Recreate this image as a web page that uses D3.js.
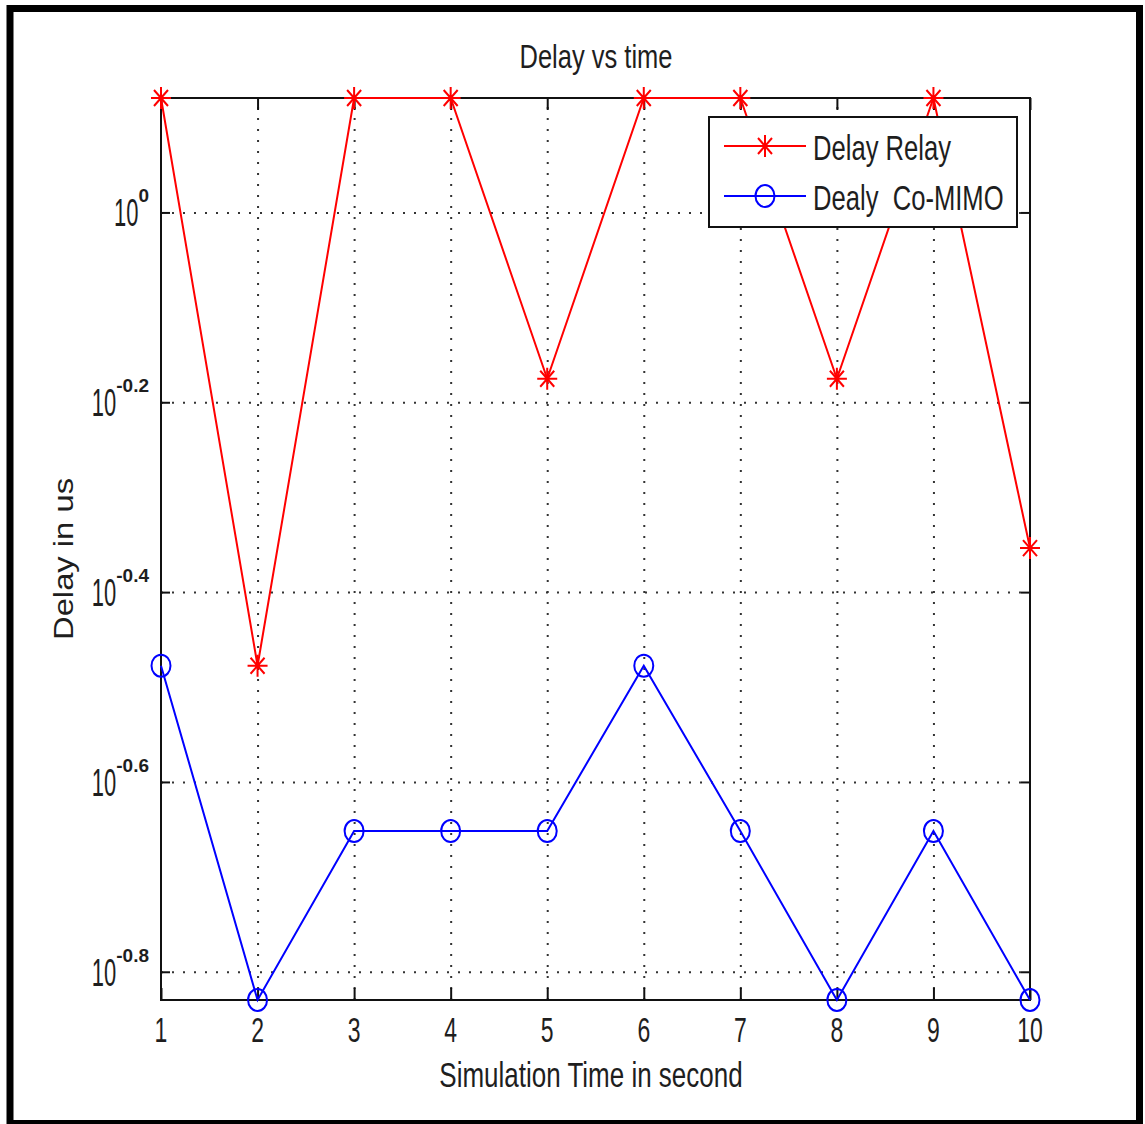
<!DOCTYPE html>
<html><head><meta charset="utf-8">
<script src="https://cdn.jsdelivr.net/npm/d3@7"></script>
<style>
html,body{margin:0;padding:0;background:#fff;}
svg{display:block;}
text{font-family:"Liberation Sans",Arial,Helvetica,sans-serif;fill:#1e1e1e;}
</style></head>
<body><svg id="c" width="1145" height="1124"></svg>
<script>
const times = [1,2,3,4,5,6,7,8,9,10];
const delayRelay = [1.32, 0.333, 1.32, 1.32, 0.668, 1.32, 1.32, 0.668, 1.32, 0.443];
const delayCoMIMO = [0.333, 0.148, 0.223, 0.223, 0.223, 0.333, 0.223, 0.148, 0.223, 0.148];
const xTicks = [1,2,3,4,5,6,7,8,9,10];
const yTickExps = [0, -0.2, -0.4, -0.6, -0.8];
const yTickLabels = ["0", "-0.2", "-0.4", "-0.6", "-0.8"];
const seriesNames = ["Delay Relay", "Dealy  Co-MIMO"];
const titleText = "Delay vs time";
const xLabel = "Simulation Time in second";
const yLabel = "Delay in us";

const svg = d3.select('#c');
const L = 161, R = 1030, T = 98, B = 1000;
const x = d3.scaleLinear().domain([1, 10]).range([L, R]);
const y = d3.scaleLog().domain([d3.min(delayCoMIMO.concat(delayRelay)), d3.max(delayCoMIMO.concat(delayRelay))]).range([B, T]);
const yTickVals = yTickExps.map(e => Math.pow(10, e));

function stext(parent, px, py, str, size, sx, sy, anchor) {
  const g = parent.append('g').attr('transform', `translate(${px},${py}) scale(${sx},${sy})`);
  const t = g.append('text').attr('text-anchor', anchor).style('font-size', size + 'px')
    .style('white-space', 'pre').text(str);
  return t;
}

svg.append('rect').attr('width', 1145).attr('height', 1124).attr('fill', '#fff');
// outer frame
svg.append('rect').attr('x', 10).attr('y', 8.5).attr('width', 1129.5).attr('height', 1115)
  .attr('fill', 'none').attr('stroke', '#000').attr('stroke-width', 7);

// grid
const gridX = svg.append('g').attr('transform', `translate(0,${B})`)
  .call(d3.axisBottom(x).tickValues(xTicks.slice(1, -1)).tickSize(-(B - T)).tickFormat(''));
const gridY = svg.append('g').attr('transform', `translate(${L},0)`)
  .call(d3.axisLeft(y).tickValues(yTickVals).tickSize(-(R - L)).tickFormat(''));
[gridX, gridY].forEach(g => {
  g.select('.domain').remove();
  g.selectAll('line').attr('stroke', '#333').attr('stroke-width', 2).attr('stroke-dasharray', '2,9');
});

// axis ticks (inward on all sides)
const tickStyle = g => { g.select('.domain').remove(); g.selectAll('line').attr('stroke', '#111').attr('stroke-width', 2); };
svg.append('g').attr('transform', `translate(0,${B})`).call(d3.axisBottom(x).tickValues(xTicks).tickSize(-12).tickFormat('')).call(tickStyle);
svg.append('g').attr('transform', `translate(0,${T})`).call(d3.axisTop(x).tickValues(xTicks).tickSize(-12).tickFormat('')).call(tickStyle);
svg.append('g').attr('transform', `translate(${L},0)`).call(d3.axisLeft(y).tickValues(yTickVals).tickSize(-9).tickFormat('')).call(tickStyle);
svg.append('g').attr('transform', `translate(${R},0)`).call(d3.axisRight(y).tickValues(yTickVals).tickSize(-9).tickFormat('')).call(tickStyle);

// box
svg.append('rect').attr('x', L).attr('y', T).attr('width', R - L).attr('height', B - T)
  .attr('fill', 'none').attr('stroke', '#111').attr('stroke-width', 2);

// tick labels
xTicks.forEach(v => stext(svg, x(v), 1042, String(v), 23, 1, 1.5, 'middle'));
yTickVals.forEach((v, i) => {
  const yy = y(v);
  const sup = stext(svg, 149, yy - 10, yTickLabels[i], 19, 1, 1.0, 'end').style('font-weight', 'bold');
  const w = sup.node().getComputedTextLength();
  stext(svg, 149 - w, yy + 14, "10", 22, 1, 1.75, 'end');
});

// title and labels
stext(svg, 596, 68, titleText, 25.5, 1, 1.27, 'middle');
stext(svg, 591, 1087, xLabel, 26, 1, 1.33, 'middle');
svg.append('g').attr('transform', 'translate(73,559) rotate(-90) scale(1.17,1)')
  .append('text').attr('text-anchor', 'middle').style('font-size', '28px').text(yLabel);

// series
const line = d3.line().x((d, i) => x(times[i])).y(d => y(d));
svg.append('path').datum(delayRelay).attr('d', line).attr('fill', 'none').attr('stroke', '#ff0000').attr('stroke-width', 2);
svg.append('path').datum(delayCoMIMO).attr('d', line).attr('fill', 'none').attr('stroke', '#0000ff').attr('stroke-width', 2);

function star(g, cx, cy) {
  const p = `M${cx},${cy - 11}L${cx},${cy + 11}M${cx - 10},${cy}L${cx + 10},${cy}` +
    `M${cx - 7},${cy - 8}L${cx + 7},${cy + 8}M${cx - 7},${cy + 8}L${cx + 7},${cy - 8}`;
  g.append('path').attr('d', p).attr('stroke', '#ff0000').attr('stroke-width', 2).attr('fill', 'none');
}
function circ(g, cx, cy) {
  g.append('ellipse').attr('cx', cx).attr('cy', cy).attr('rx', 9.5).attr('ry', 11)
    .attr('fill', 'none').attr('stroke', '#0000ff').attr('stroke-width', 2);
}
const mk = svg.append('g');
delayRelay.forEach((d, i) => star(mk, x(times[i]), y(d)));
delayCoMIMO.forEach((d, i) => circ(mk, x(times[i]), y(d)));

// legend
const lg = svg.append('g');
lg.append('rect').attr('x', 709).attr('y', 117).attr('width', 308).attr('height', 110)
  .attr('fill', '#fff').attr('stroke', '#111').attr('stroke-width', 2);
lg.append('line').attr('x1', 724).attr('x2', 806).attr('y1', 146).attr('y2', 146).attr('stroke', '#ff0000').attr('stroke-width', 2);
star(lg, 765, 146);
lg.append('line').attr('x1', 724).attr('x2', 806).attr('y1', 196).attr('y2', 196).attr('stroke', '#0000ff').attr('stroke-width', 2);
circ(lg, 765, 196);
stext(lg, 813, 160, seriesNames[0], 25.6, 1, 1.35, 'start');
stext(lg, 813, 210, seriesNames[1], 25.6, 1, 1.35, 'start');
</script></body></html>
